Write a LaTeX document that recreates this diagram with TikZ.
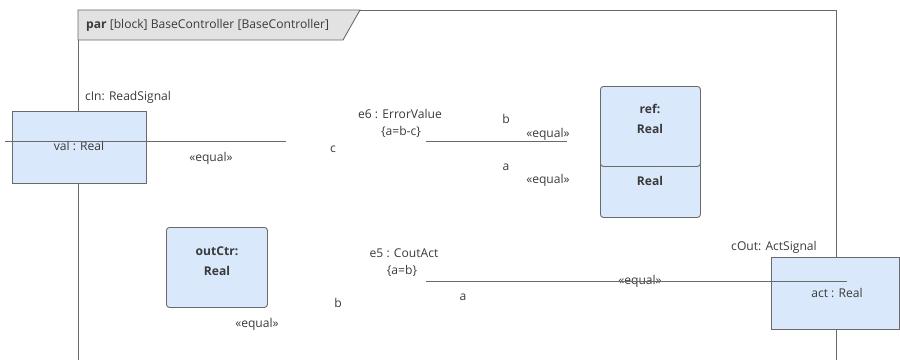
\documentclass[tikz,border=0pt]{standalone}
\usepackage{fontspec}
\setmainfont{Open Sans}
\definecolor{linecol}{HTML}{6A6A6A}
\definecolor{boxfill}{HTML}{DAE8FC}
\definecolor{txtcol}{HTML}{3A3A3A}
\definecolor{hdrfill}{HTML}{E2E2E2}
\begin{document}
\begin{tikzpicture}[x=1pt,y=-1pt,
  txt/.style={text=txtcol, font=\fontsize{12.1}{14}\selectfont, inner sep=0pt},
  btxt/.style={txt, font=\fontsize{12.1}{14}\selectfont\bfseries},
  partbox/.style={draw=linecol, fill=boxfill, rounded corners=3pt, line width=0.9pt, anchor=north west, inner sep=0pt},
  propbox/.style={draw=linecol, fill=boxfill, line width=0.9pt, anchor=north west, inner sep=0pt},
  conn/.style={draw=linecol, line width=0.9pt}]
\useasboundingbox (0,0) rectangle (900,360);
% frame
\coordinate (fbl) at (78,360);
\coordinate (ftl) at (78,10);
\coordinate (ftr) at (836,10);
\coordinate (fbr) at (836,360);
\draw[conn] (fbl) -- (ftl) -- (ftr) -- (fbr);
\coordinate (h1) at (360,10);
\coordinate (h2) at (343,40);
\coordinate (h3) at (78,40);
\filldraw[conn, fill=hdrfill] (ftl) -- (h1) -- (h2) -- (h3) -- cycle;
\node[txt, anchor=west] (hdr) at (86,25) {\textbf{par} [block] BaseController [BaseController]};
% cIn
\node[propbox, minimum width=134pt, minimum height=72pt] (cin) at (12,111) {};
\node[txt] (cinlbl) at (128,97) {cIn: ReadSignal};
\node[txt] (val) at (79,146) {val : Real};
\coordinate (l1a) at (5,141);
\coordinate (l1b) at (286,141);
\draw[conn] (l1a) -- (l1b);
\node[txt] (eq1) at (211,158) {«equal»};
% e6
\node[txt] (e6) at (400,114) {e6 : ErrorValue};
\node[txt] (e6c) at (401,132) {\{a=b-c\}};
\coordinate (l2a) at (426,141);
\coordinate (l2b) at (567,141);
\draw[conn] (l2a) -- (l2b);
\node[txt] (b1) at (506,119) {b};
\node[txt] (eq2) at (548,134) {«equal»};
\node[txt] (c1) at (333,149) {c};
\node[txt] (a1) at (506,167) {a};
\node[txt] (eq3) at (548,180) {«equal»};
% error and ref
\node[partbox, minimum width=100pt, minimum height=79pt] (err) at (600,138) {};
\node[btxt] (errt) at (650,163) {error:};
\node[btxt] (errr) at (650,181) {Real};
\node[partbox, minimum width=100pt, minimum height=80pt] (ref) at (600,86) {};
\node[btxt] (reft) at (650,109) {ref:};
\node[btxt] (refr) at (650,129) {Real};
% outCtr
\node[partbox, minimum width=101pt, minimum height=80pt] (outctr) at (166,227) {};
\node[btxt] (oct) at (217,251) {outCtr:};
\node[btxt] (ocr) at (217,271) {Real};
\node[txt] (b2) at (338,303) {b};
\node[txt] (eq4) at (257,324) {«equal»};
% e5
\node[txt] (e5) at (404,253) {e5 : CoutAct};
\node[txt] (e5c) at (402,271) {\{a=b\}};
\node[txt] (a2) at (463,297) {a};
\node[txt] (eq5) at (640,281) {«equal»};
% act
\node[propbox, minimum width=128pt, minimum height=72pt] (act) at (771,257) {};
\node[txt] (coutlbl) at (774,247) {cOut: ActSignal};
\node[txt] (actt) at (837,293) {act : Real};
\coordinate (l3a) at (426,281);
\coordinate (l3b) at (847,281);
\draw[conn] (l3a) -- (l3b);
\end{tikzpicture}
\end{document}
